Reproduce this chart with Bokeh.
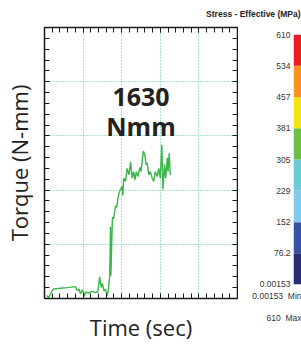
from bokeh.plotting import figure
from bokeh.models import (LinearAxis, SingleIntervalTicker, FixedTicker, Range1d, Label, Title)
from bokeh.layouts import row, column
from bokeh.embed import file_html
from bokeh.resources import INLINE

# ---- data ----
time_s = [0.05, 0.11, 0.20, 0.24, 0.41, 0.59, 0.80, 0.85, 0.89, 0.93, 0.98, 1.04,
          1.06, 1.15, 1.23, 1.32, 1.38, 1.43, 1.47, 1.50, 1.54, 1.58, 1.62, 1.65,
          1.69, 1.71, 1.72, 1.76, 1.79, 1.84, 1.87, 1.90, 1.93, 1.97, 2.01, 2.03,
          2.05, 2.10, 2.14, 2.19, 2.23, 2.27, 2.31, 2.34, 2.38, 2.42, 2.47, 2.50,
          2.56, 2.60, 2.63, 2.66, 2.70, 2.74, 2.79, 2.83, 2.87, 2.92, 2.96, 3.00,
          3.04, 3.07, 3.11, 3.14, 3.18, 3.20, 3.23, 3.26]
torque_nmm = [38, 14, 100, 122, 133, 140, 154, 100, 122, 60, 112, 28,
              84, 70, 91, 77, 84, 280, 140, 196, 100, 119, 38, 91,
              294, 931, 294, 1050, 1029, 1197, 1176, 1281, 1365, 1407, 1449, 1330,
              1554, 1512, 1680, 1596, 1764, 1554, 1638, 1533, 1638, 1575, 1694, 1638,
              1904, 1855, 1729, 1750, 1596, 1638, 1554, 1512, 1638, 1575, 1680, 1554,
              1981, 1407, 1729, 1554, 1813, 1638, 1876, 1596]
note_lines = ["1630", "Nmm"]

stress_levels = [0.00153, 76.2, 152, 229, 305, 381, 457, 534, 610]
stress_labels = ["0.00153", "76.2", "152", "229", "305", "381", "457", "534", "610"]
band_colors = ["#2a2b76", "#3953a4", "#82cbec", "#6ecad6",
               "#6abf4b", "#f4e50f", "#f7931e", "#ed1c24"]
stress_min_text = "0.00153\u00a0\u00a0Min"
stress_max_text = "610\u00a0\u00a0Max"
legend_title = "Stress - Effective (MPa)"

SVG = dict(output_backend="svg", toolbar_location=None)

# ---- legend title strip ----
tf = figure(width=301, height=26, x_range=Range1d(0, 1), y_range=Range1d(0, 1),
            x_axis_location=None, y_axis_location=None, min_border=0, **SVG)
tf.outline_line_color = None
tf.grid.visible = False
tf.add_layout(Label(x=0.997, y=0.5, text=legend_title, text_align="right",
                    text_baseline="middle", text_font="Liberation Sans",
                    text_font_size="8.5px", text_font_style="bold", text_color="#222222"))

# ---- main plot ----
p = figure(width=238, height=318, x_range=Range1d(0, 5), y_range=Range1d(0, 3500),
           min_border_left=44, min_border_right=1, min_border_top=1, min_border_bottom=41,
           x_axis_label="Time (sec)", y_axis_label="Torque (N-mm)", **SVG)
p.outline_line_color = None

xt = SingleIntervalTicker(interval=1, num_minor_ticks=5)
yt = SingleIntervalTicker(interval=700, num_minor_ticks=5)
p.xaxis.ticker = xt
p.yaxis.ticker = yt
p.xgrid.ticker = xt
p.ygrid.ticker = yt
p.add_layout(LinearAxis(ticker=xt), "above")
p.add_layout(LinearAxis(ticker=yt), "right")
for ax in p.axis:
    ax.major_label_text_color = None
    ax.major_label_standoff = 0
    ax.major_tick_in = 5
    ax.major_tick_out = 0
    ax.minor_tick_in = 5
    ax.minor_tick_out = 0
    ax.axis_line_color = "#1a1a1a"
    ax.axis_line_width = 1.5
    ax.major_tick_line_color = "#1a1a1a"
    ax.minor_tick_line_color = "#1a1a1a"
    ax.major_tick_line_width = 1
    ax.minor_tick_line_width = 1
    ax.axis_label_text_font = "Open Sans"
    ax.axis_label_text_font_size = "22px"
    ax.axis_label_text_font_style = "normal"
    ax.axis_label_text_color = "#222222"
p.below[0].axis_label_standoff = 13
p.left[0].axis_label_standoff = 11

for g in (p.xgrid, p.ygrid):
    g.grid_line_color = "#4ccb8a"
    g.grid_line_dash = "1 2"
    g.grid_line_width = 1

p.line(time_s, torque_nmm, line_color="#3cb54a", line_width=1.4)

for txt, yv in zip(note_lines, [2604, 2226]):
    p.add_layout(Label(x=2.5, y=yv, text=txt, text_align="center",
                       text_baseline="middle", text_font="Open Sans", text_font_size="25px",
                       text_font_style="bold", text_color="#222222"))

# ---- colour legend ----
cb = figure(width=63, height=318, x_range=Range1d(0, 1), y_range=Range1d(0, 610),
            x_axis_location=None,
            min_border_left=55, min_border_right=0, min_border_top=8, min_border_bottom=60, **SVG)
cb.outline_line_color = None
cb.grid.visible = False
cb.quad(left=0, right=1, bottom=stress_levels[:-1], top=stress_levels[1:],
        fill_color=band_colors, line_color=None)
ya = cb.yaxis[0]
ya.ticker = FixedTicker(ticks=stress_levels)
ya.major_label_overrides = {v: t for v, t in zip(stress_levels, stress_labels)}
ya.axis_line_color = None
ya.major_tick_line_color = None
ya.minor_tick_line_color = None
ya.major_tick_in = 0
ya.major_tick_out = 0
ya.minor_tick_in = 0
ya.minor_tick_out = 0
ya.major_label_standoff = 3
ya.major_label_text_font = "Liberation Sans"
ya.major_label_text_font_size = "8.5px"
ya.major_label_text_color = "#333333"

for txt, sd in ((stress_min_text, 8), (stress_max_text, 13)):
    cb.add_layout(Title(text=txt, align="right", standoff=sd,
                        text_font="Liberation Sans", text_font_size="8.5px",
                        text_font_style="normal", text_color="#333333"), "below")

layout = column(tf, row(p, column(cb, spacing=0), spacing=0), spacing=0)
open("out.html", "w").write(file_html(layout, INLINE))
